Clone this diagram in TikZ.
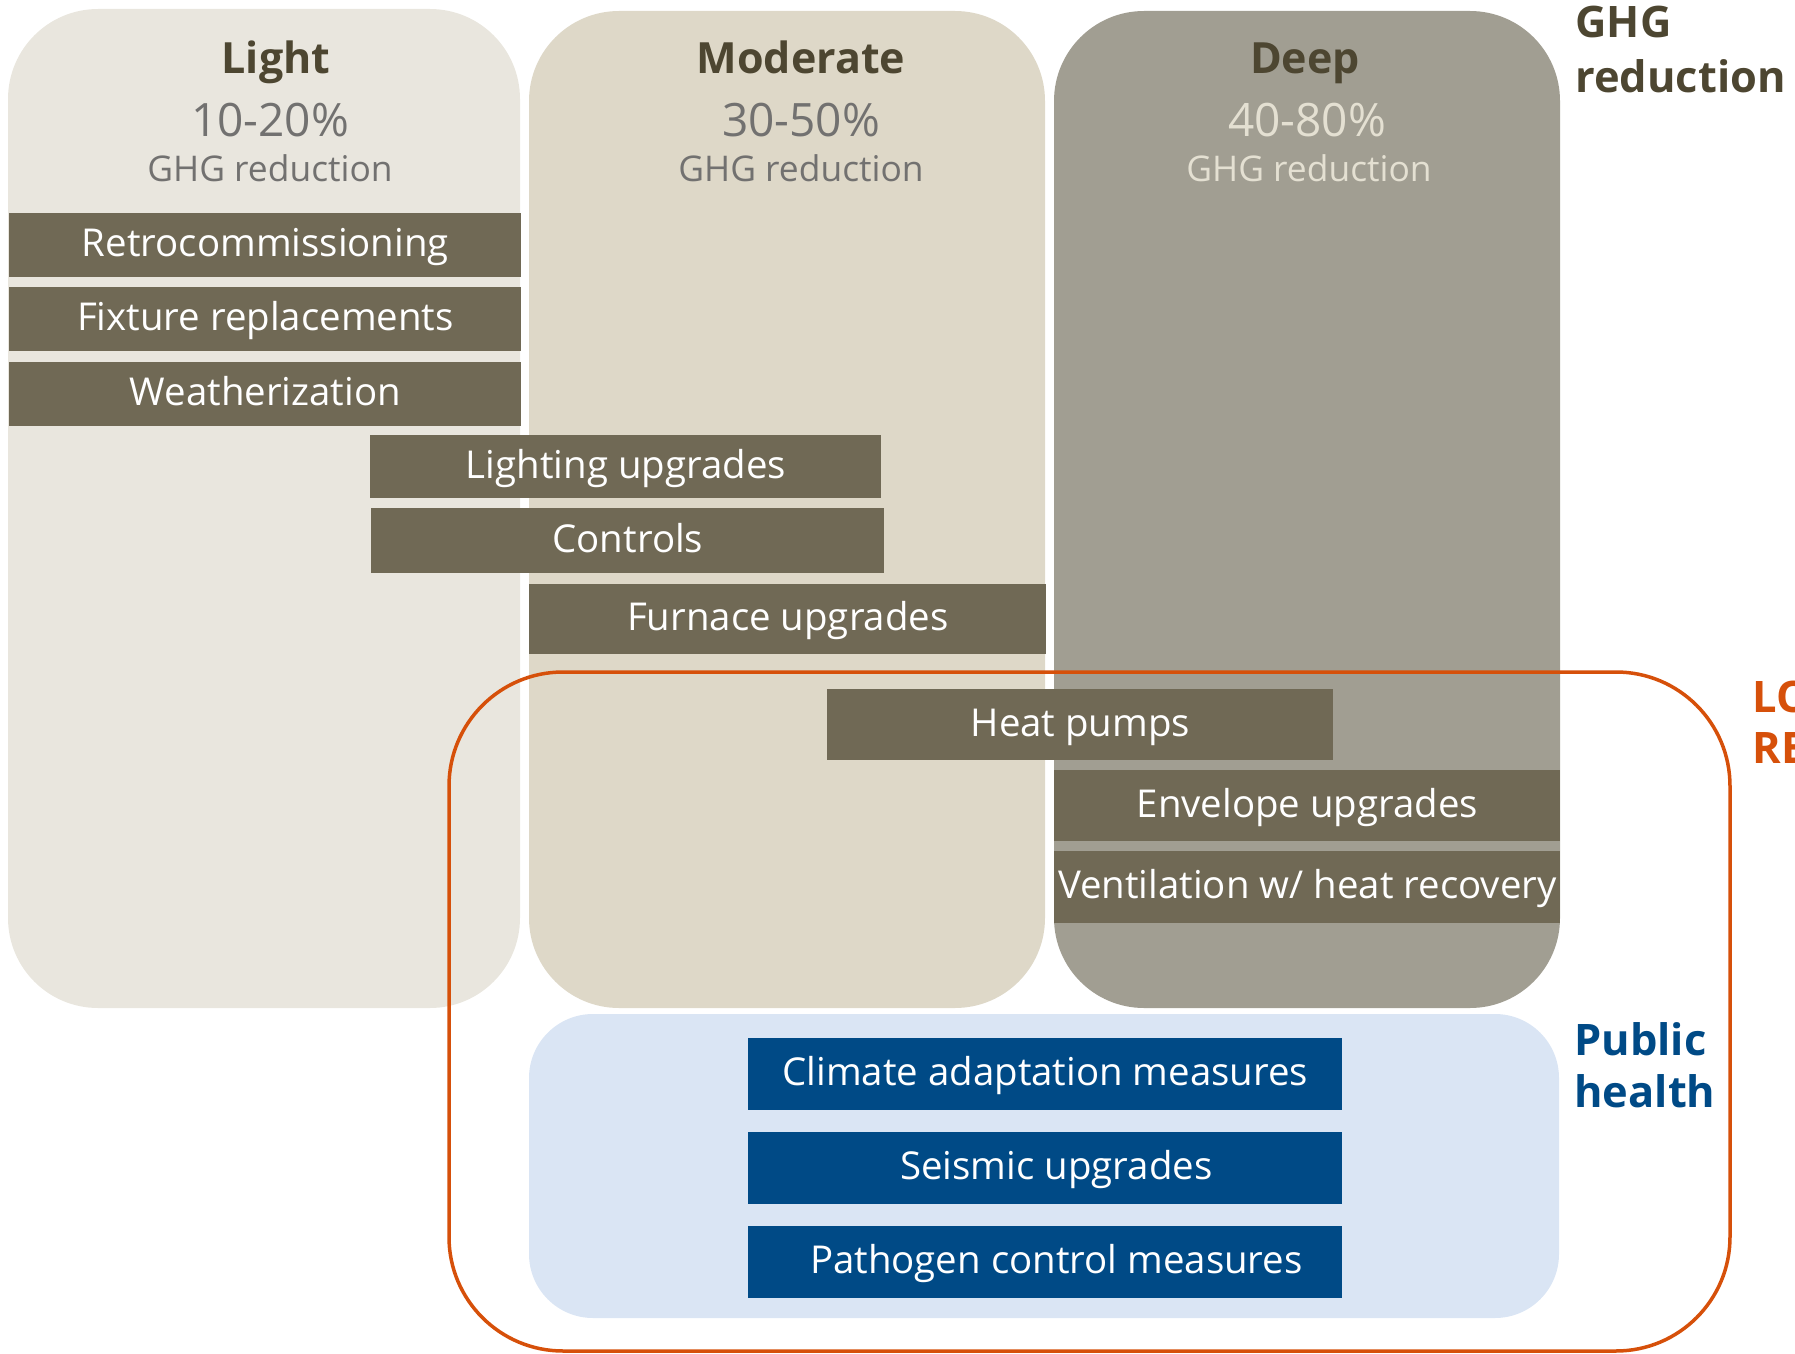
\documentclass[tikz,border=0pt]{standalone}
\usepackage{fontspec}
\setmainfont{Open Sans}
\definecolor{lightp}{HTML}{E9E6DE}
\definecolor{modp}{HTML}{DED8C8}
\definecolor{deepp}{HTML}{A19E92}
\definecolor{barc}{HTML}{706955}
\definecolor{titc}{HTML}{4D4631}
\definecolor{pctc}{HTML}{727170}
\definecolor{pctd}{HTML}{E4E0D2}
\definecolor{bluec}{HTML}{004A86}
\definecolor{phc}{HTML}{DAE5F4}
\definecolor{orangec}{HTML}{D6500A}
\begin{document}
\begin{tikzpicture}[x=0.5pt,y=-0.5pt,
 panel/.style={rounded corners=45pt},
 bar/.style={fill=barc,text=white,anchor=north west,inner sep=0pt,font=\fontsize{19.2}{23}\selectfont,text height=13.5pt,text depth=2pt},
 bluebar/.style={bar,fill=bluec,minimum width=297pt,minimum height=36pt},
 title/.style={anchor=base,text=titc,font=\bfseries\fontsize{21.5}{26}\selectfont,inner sep=0pt},
 pct/.style={anchor=base,font=\fontsize{23}{28}\selectfont,inner sep=0pt},
 ghg/.style={anchor=base,font=\fontsize{17.7}{21}\selectfont,inner sep=0pt},
 side/.style={anchor=base west,font=\bfseries\fontsize{21.7}{26}\selectfont,inner sep=0pt}]
\useasboundingbox (0,0) rectangle (1795,1354);
\clip (0,0) rectangle (1795,1354);
% panels
\fill[lightp,panel] (8,9) rectangle (520,1008);
\fill[modp,panel] (529,11) rectangle (1045,1008);
\fill[deepp,panel] (1054,11) rectangle (1560,1008);
% titles
\node[title] (tl) at (276,74) {Light};
\node[pct,text=pctc] (pl) at (270,137) {10-20\%};
\node[ghg,text=pctc] (gl) at (270,182) {GHG reduction};
\node[title] (tm) at (801,74) {Moderate};
\node[pct,text=pctc] (pm) at (801,137) {30-50\%};
\node[ghg,text=pctc] (gm) at (801,182) {GHG reduction};
\node[title] (td) at (1305,74) {Deep};
\node[pct,text=pctd] (pd) at (1307,137) {40-80\%};
\node[ghg,text=pctd] (gd) at (1309,182) {GHG reduction};
% bars
\node[bar,minimum width=256pt,minimum height=32pt] (retro) at (9,213) {Retrocommissioning};
\node[bar,minimum width=256pt,minimum height=32pt] (fix) at (9,287) {Fixture replacements};
\node[bar,minimum width=256pt,minimum height=32pt] (weat) at (9,362) {Weatherization};
\node[bar,minimum width=255.5pt,minimum height=31.5pt] (lig) at (370,435) {Lighting upgrades};
\node[bar,minimum width=256.5pt,minimum height=32.5pt] (ctrl) at (371,508) {Controls};
\node[bar,minimum width=258.5pt,minimum height=35pt] (furn) at (529,584) {Furnace upgrades};
\node[bar,minimum width=253pt,minimum height=35.5pt] (heat) at (827,689) {Heat pumps};
\node[bar,minimum width=253pt,minimum height=35.5pt] (env) at (1054,770) {Envelope upgrades};
\node[bar,minimum width=253pt,minimum height=36pt] (vent) at (1054,851) {Ventilation w/ heat recovery};
% public health panel
\fill[phc,rounded corners=32pt] (529,1014) rectangle (1559,1318);
\node[bluebar] (clim) at (748,1038) {Climate adaptation measures};
\node[bluebar] (seis) at (748,1132) {\hspace*{11pt}Seismic upgrades};
\node[bluebar] (path) at (748,1226) {\hspace*{11pt}Pathogen control measures};
% orange outline
\draw[orangec,line width=1.75pt,rounded corners=57pt] (449,672) rectangle (1730,1351);
% side labels
\node[side,text=titc] (ghg1) at (1575,38) {GHG};
\node[side,text=titc] (ghg2) at (1575,93) {reduction};
\node[side,text=bluec] (ph1) at (1574,1055) {Public};
\node[side,text=bluec] (ph2) at (1574,1107) {health};
\node[side,text=orangec] (lo1) at (1752,712) {LO};
\node[side,text=orangec] (lo2) at (1752,763) {RE};
\end{tikzpicture}
\end{document}
